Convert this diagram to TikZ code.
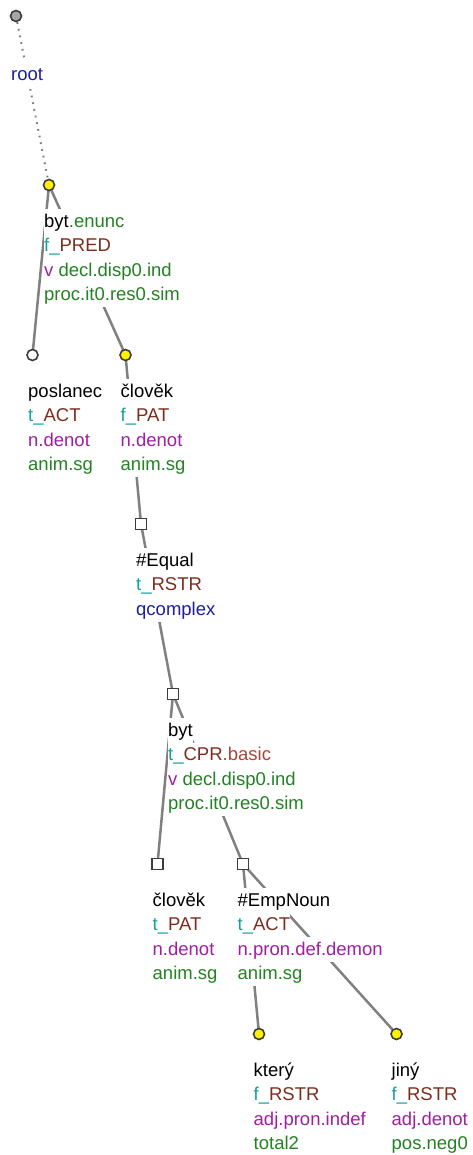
\documentclass[tikz,border=0pt]{standalone}
\usepackage{fontspec}
\setmainfont{Liberation Sans}
\usetikzlibrary{positioning, backgrounds}

\definecolor{fpre}{RGB}{20,160,160}
\definecolor{func}{RGB}{125,45,30}
\definecolor{fsub}{RGB}{170,70,55}
\definecolor{gram}{RGB}{160,30,160}
\definecolor{attr}{RGB}{35,130,35}
\definecolor{blu}{RGB}{30,30,160}
\definecolor{edgec}{RGB}{128,128,128}
\definecolor{rimc}{RGB}{60,60,60}

\setlength{\fboxsep}{0pt}
% one label line on a white strip
\newcommand{\wl}[1]{\colorbox{white}{\rule[-6.5pt]{0pt}{24.5pt}#1}}
\newcommand{\fp}[2]{\textcolor{fpre}{#1}\textcolor{func}{#2}}

\begin{document}
\begin{tikzpicture}[x=1pt, y=-1pt,
    dot/.style={circle, draw=rimc, line width=1.6pt, inner sep=0pt, minimum size=11pt},
    sq/.style={rectangle, draw=rimc, line width=1.6pt, fill=white, inner sep=0pt, minimum size=11pt},
    edge/.style={draw=edgec, line width=2.5pt},
    lab/.style={anchor=north west, inner sep=0pt, align=left,
      font=\fontsize{18.5}{24.5}\selectfont}
  ]
    \useasboundingbox (0,0) rectangle (473,1155);

    % tree nodes
    \node[dot, fill=gray!70] (root) at (16,16) {};
    \node[dot, fill=yellow] (byt) at (49,185) {};
    \node[dot, fill=white] (poslanec) at (32.5,355) {};
    \node[dot, fill=yellow] (clovek) at (125.5,355) {};
    \node[sq] (equal) at (141,524) {};
    \node[sq] (bytb) at (173,694) {};
    \node[sq] (clovekb) at (157.5,864) {};
    \node[sq] (empnoun) at (243,864) {};
    \node[dot, fill=yellow] (ktery) at (259,1034) {};
    \node[dot, fill=yellow] (jiny) at (396.5,1034) {};

    % edges, behind the nodes
    \begin{scope}[on background layer]
      \draw[draw=edgec, line width=2pt, dash pattern=on 1.8pt off 5pt] (root) -- (byt);
      \draw[edge] (byt.center) -- (poslanec.center);
      \draw[edge] (byt.center) -- (clovek.center);
      \draw[edge] (clovek.center) -- (equal.center);
      \draw[edge] (equal.center) -- (bytb.center);
      \draw[edge] (bytb.center) -- (clovekb.center);
      \draw[edge] (bytb.center) -- (empnoun.center);
      \draw[edge] (empnoun.center) -- (ktery.center);
      \draw[edge] (empnoun.center) -- (jiny.center);
    \end{scope}

    % labels
    \node[lab] (lroot) at (11,62) {\wl{\textcolor{blu}{root}}};
    \node[lab] (lbyt) at (44,209) {\wl{byt\textcolor{attr}{.enunc}}\\
      \wl{\fp{f\_}{PRED}}\\
      \wl{\textcolor{gram}{v} \textcolor{attr}{decl.disp0.ind}}\\
      \wl{\textcolor{attr}{proc.it0.res0.sim}}};
    \node[lab] (lposlanec) at (28,379) {\wl{poslanec}\\
      \wl{\fp{t\_}{ACT}}\\
      \wl{\textcolor{gram}{n.denot}}\\
      \wl{\textcolor{attr}{anim.sg}}};
    \node[lab] (lclovek) at (120.5,379) {\wl{člověk}\\
      \wl{\fp{f\_}{PAT}}\\
      \wl{\textcolor{gram}{n.denot}}\\
      \wl{\textcolor{attr}{anim.sg}}};
    \node[lab] (lequal) at (136,548) {\wl{\#Equal}\\
      \wl{\fp{t\_}{RSTR}}\\
      \wl{\textcolor{blu}{qcomplex}}};
    \node[lab] (lbytb) at (168,718) {\wl{byt}\\
      \wl{\fp{t\_}{CPR}\textcolor{fsub}{.basic}}\\
      \wl{\textcolor{gram}{v} \textcolor{attr}{decl.disp0.ind}}\\
      \wl{\textcolor{attr}{proc.it0.res0.sim}}};
    \node[lab] (lclovekb) at (152.5,888) {\wl{člověk}\\
      \wl{\fp{t\_}{PAT}}\\
      \wl{\textcolor{gram}{n.denot}}\\
      \wl{\textcolor{attr}{anim.sg}}};
    \node[lab] (lempnoun) at (237.5,888) {\wl{\#EmpNoun}\\
      \wl{\fp{t\_}{ACT}}\\
      \wl{\textcolor{gram}{n.pron.def.demon}}\\
      \wl{\textcolor{attr}{anim.sg}}};
    \node[lab] (lktery) at (253.5,1058) {\wl{který}\\
      \wl{\fp{f\_}{RSTR}}\\
      \wl{\textcolor{gram}{adj.pron.indef}}\\
      \wl{\textcolor{attr}{total2}}};
    \node[lab] (ljiny) at (391.5,1058) {\wl{jiný}\\
      \wl{\fp{f\_}{RSTR}}\\
      \wl{\textcolor{gram}{adj.denot}}\\
      \wl{\textcolor{attr}{pos.neg0}}};
  \end{tikzpicture}
\end{document}
